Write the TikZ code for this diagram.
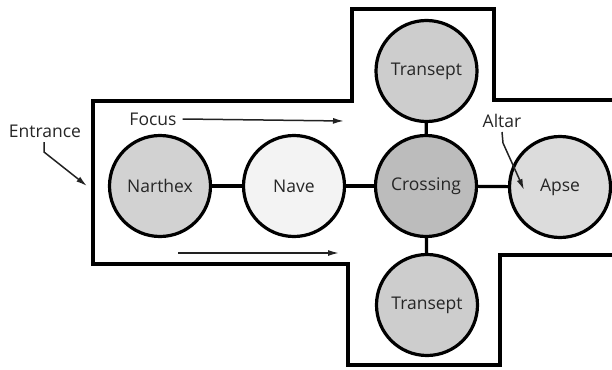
\documentclass[tikz,border=0pt]{standalone}
\usepackage{fontspec}
\setmainfont{Open Sans}
\usetikzlibrary{arrows.meta}
\definecolor{narthexc}{HTML}{D2D2D2}
\definecolor{navec}{HTML}{F3F3F3}
\definecolor{crossc}{HTML}{BCBCBC}
\definecolor{transc}{HTML}{CDCDCD}
\definecolor{apsec}{HTML}{DCDCDC}
\definecolor{arrc}{HTML}{222222}
\tikzset{
  room/.style={circle, draw=black, line width=3.2pt, minimum size=101pt, inner sep=0pt, font=\fontsize{17.5}{20}\selectfont, text=black!85},
  link/.style={line width=3.2pt, draw=black},
  outline/.style={line width=3.6pt, draw=black, line join=miter},
  lbl/.style={font=\fontsize{17.5}{20}\selectfont, text=black!85, inner sep=0pt},
  flow/.style={line width=1.5pt, draw=arrc, -{Latex[length=11pt,width=6pt]}}
}
\begin{document}
\begin{tikzpicture}[x=1pt,y=-1pt]
\useasboundingbox (0,0) rectangle (612,369);
% outline
\draw[outline] (640,100) -- (494,100) -- (494,9) -- (352,9) -- (352,101) -- (93,101) -- (93,264) -- (348,264) -- (348,365) -- (500,365) -- (500,255) -- (640,255);
% rooms
\node[room, fill=narthexc] (narthex) at (160,186) {Narthex};
\node[room, fill=navec] (nave) at (294,186) {Nave};
\node[room, fill=crossc] (crossing) at (426,186) {Crossing};
\node[room, fill=transc] (ttop) at (426.5,71) {Transept};
\node[room, fill=transc] (tbot) at (427,305) {Transept};
\node[room, fill=apsec] (apse) at (560,187) {Apse};
% links
\draw[link] (narthex) -- (nave);
\draw[link] (nave) -- (crossing);
\draw[link] (crossing) -- (apse);
\draw[link] (crossing) -- (ttop);
\draw[link] (crossing) -- (tbot);
% labels
\node[lbl] (focus) at (153,119) {Focus};
\coordinate (f2) at (344,121);
\draw[flow] (focus.east) ++(6pt,0) -- (f2);
\coordinate (b1) at (178,253);
\coordinate (b2) at (339,253);
\draw[flow] (b1) -- (b2);
\node[lbl] (entr) at (45,131) {Entrance};
\coordinate (etip) at (87,186);
\draw[flow] (44,142) -- (44,152) -- (etip);
\node[lbl] (altar) at (502,121) {Altar};
\coordinate (atip) at (524,190);
\draw[flow] (502,132) -- (503,143) .. controls (512,162) .. (atip);
\end{tikzpicture}
\end{document}
